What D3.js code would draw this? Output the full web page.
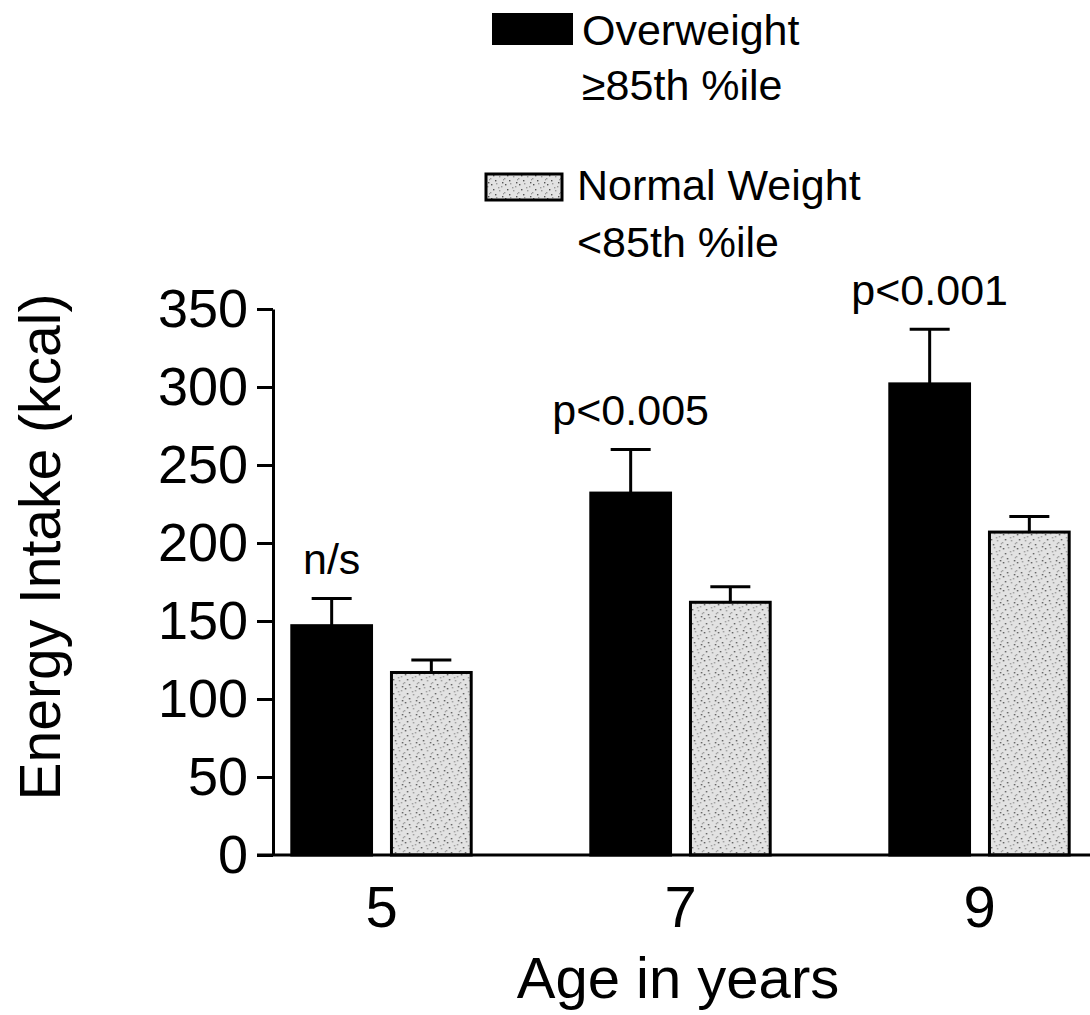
<!DOCTYPE html>
<html>
<head>
    <meta charset="UTF-8">
    <title>Energy Intake by Age</title>
    <script src="https://d3js.org/d3.v7.min.js"></script>
    <style>
        body { margin: 0; background: #fff; }
        text { font-family: "Liberation Sans", Arial, Helvetica, sans-serif; fill: #000; }
    </style>
</head>
<body>
    <svg id="chart" width="1090" height="1015"></svg>
    <script>
        // data
        const ages = ['5', '7', '9'];
        const series = ['Overweight', 'Normal Weight'];
        const overweight = [147, 232, 302];
        const overweightErr = [17.5, 28, 35];
        const normalWeight = [117, 162, 207];
        const normalWeightErr = [8, 10, 10];
        const pLabels = ['n/s', 'p<0.005', 'p<0.001'];
        const yTicks = [0, 50, 100, 150, 200, 250, 300, 350];

        const svg = d3.select('#chart');

        // stipple texture for the normal weight bars
        const defs = svg.append('defs');
        const pat = defs.append('pattern')
            .attr('id', 'stipple')
            .attr('patternUnits', 'userSpaceOnUse')
            .attr('width', 14).attr('height', 14);
        pat.append('rect').attr('width', 14).attr('height', 14).attr('fill', '#e2e2e2');
        const dots = [[1, 2], [6, 1], [11, 4], [3, 7], [9, 8], [13, 11], [5, 12], [0, 10], [8, 5], [12, 0]];
        pat.selectAll('rect.d').data(dots).enter().append('rect')
            .attr('class', 'd')
            .attr('x', d => d[0]).attr('y', d => d[1])
            .attr('width', 1.4).attr('height', 1.4)
            .attr('fill', (d, i) => i % 3 === 0 ? '#555' : '#999');

        const y = d3.scaleLinear().domain([0, 350]).range([855, 309]);
        const x = d3.scaleBand().domain(ages).range([232, 1129]).paddingInner(0.4).paddingOuter(0.2);
        const xs = d3.scaleBand().domain(series).range([0, x.bandwidth()]).paddingInner(0.2);

        const rows = ages.map((a, i) => ({
            age: a,
            vals: [
                { key: series[0], v: overweight[i], e: overweightErr[i] },
                { key: series[1], v: normalWeight[i], e: normalWeightErr[i] }
            ]
        }));

        // y axis
        const yAxis = svg.append('g')
            .attr('transform', 'translate(273,0)')
            .call(d3.axisLeft(y).tickValues(yTicks).tickSize(16).tickSizeOuter(0).tickPadding(9));
        yAxis.select('.domain').attr('stroke-width', 3);
        yAxis.selectAll('.tick line').attr('stroke-width', 3);
        yAxis.selectAll('.tick text')
            .style('font-size', '54px')
            .style('font-family', '"Liberation Sans", Arial, sans-serif')
            .attr('fill', '#000');

        // bars
        const groups = svg.append('g').selectAll('g')
            .data(rows).enter().append('g')
            .attr('transform', d => `translate(${x(d.age)},0)`);

        const bar = groups.selectAll('g.bar')
            .data(d => d.vals).enter().append('g').attr('class', 'bar');

        // error bars (drawn first so the black bar covers the stem)
        bar.append('line')
            .attr('x1', d => xs(d.key) + xs.bandwidth() / 2)
            .attr('x2', d => xs(d.key) + xs.bandwidth() / 2)
            .attr('y1', d => y(d.v))
            .attr('y2', d => y(d.v + d.e))
            .attr('stroke', '#000').attr('stroke-width', 3);
        bar.append('line')
            .attr('x1', d => xs(d.key) + xs.bandwidth() / 2 - 20)
            .attr('x2', d => xs(d.key) + xs.bandwidth() / 2 + 20)
            .attr('y1', d => y(d.v + d.e))
            .attr('y2', d => y(d.v + d.e))
            .attr('stroke', '#000').attr('stroke-width', 3);

        bar.append('rect')
            .attr('x', d => xs(d.key))
            .attr('width', xs.bandwidth())
            .attr('y', d => y(d.v))
            .attr('height', d => y(0) - y(d.v))
            .attr('fill', d => d.key === series[0] ? '#000' : 'url(#stipple)')
            .attr('stroke', '#000')
            .attr('stroke-width', 3);

        // significance labels over the overweight bars
        groups.append('text')
            .attr('x', xs(series[0]) + xs.bandwidth() / 2)
            .attr('y', (d, i) => y(overweight[i] + overweightErr[i]) - 24)
            .attr('text-anchor', 'middle')
            .style('font-size', '43px')
            .text((d, i) => pLabels[i]);

        // baseline
        svg.append('line')
            .attr('x1', 257).attr('x2', 1090)
            .attr('y1', y(0)).attr('y2', y(0))
            .attr('stroke', '#000').attr('stroke-width', 3);

        // x axis labels
        const xAxis = svg.append('g')
            .attr('transform', `translate(0,${y(0)})`)
            .call(d3.axisBottom(x).tickSize(0).tickPadding(31));
        xAxis.select('.domain').remove();
        xAxis.selectAll('.tick text')
            .style('font-size', '58px')
            .style('font-family', '"Liberation Sans", Arial, sans-serif')
            .attr('fill', '#000');

        // axis titles
        svg.append('text')
            .attr('x', 678).attr('y', 998)
            .attr('text-anchor', 'middle')
            .style('font-size', '58px')
            .text('Age in years');

        svg.append('text')
            .attr('transform', 'translate(60,547) rotate(-90)')
            .attr('text-anchor', 'middle')
            .style('font-size', '57px')
            .text('Energy Intake (kcal)');

        // legend
        const legend = svg.append('g');
        legend.append('rect')
            .attr('x', 492).attr('y', 13).attr('width', 81).attr('height', 32)
            .attr('fill', '#000');
        legend.append('text').attr('x', 582).attr('y', 45).style('font-size', '43px').text('Overweight');
        legend.append('text').attr('x', 582).attr('y', 100).style('font-size', '43px').text('≥85th %ile');

        legend.append('rect')
            .attr('x', 486).attr('y', 174).attr('width', 76).attr('height', 26)
            .attr('fill', 'url(#stipple)').attr('stroke', '#000').attr('stroke-width', 3);
        legend.append('text').attr('x', 577).attr('y', 200).style('font-size', '43px').text('Normal Weight');
        legend.append('text').attr('x', 577).attr('y', 257).style('font-size', '43px').text('<85th %ile');
    </script>
</body>
</html>
